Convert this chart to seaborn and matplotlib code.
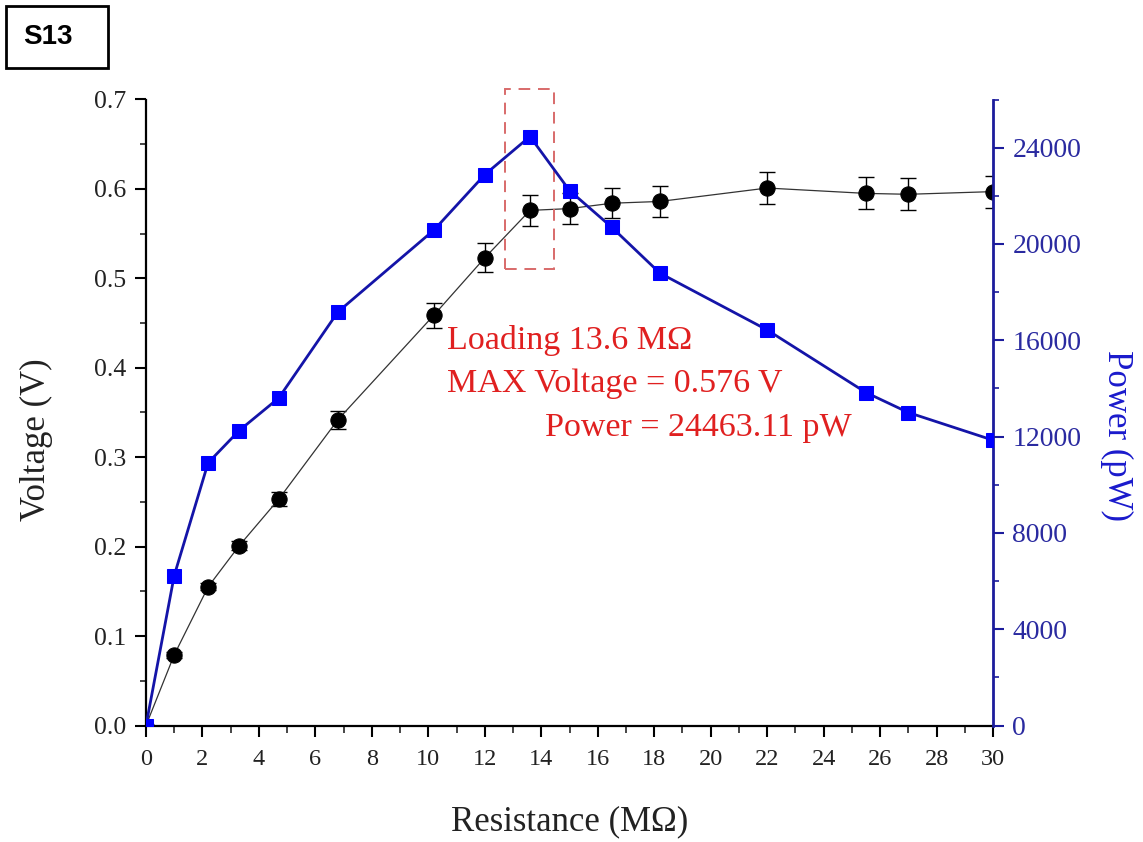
import matplotlib
matplotlib.use("Agg")
import matplotlib.pyplot as plt
import matplotlib.patches as patches
from matplotlib.ticker import MultipleLocator
import numpy as np
import pandas as pd
import seaborn as sns

# Load resistance (MOhm) and measured output
resistance = [0, 1.0, 2.2, 3.3, 4.7, 6.8, 10.2, 12.0, 13.6, 15.0, 16.5, 18.2, 22.0, 25.5, 27.0, 30.0]
voltage = [0.0, 0.079, 0.155, 0.201, 0.253, 0.342, 0.459, 0.523, 0.576, 0.578, 0.584, 0.586,
           0.601, 0.595, 0.594, 0.597]
voltage_err = [0.0, 0.003, 0.004, 0.005, 0.008, 0.010, 0.014, 0.016, 0.017, 0.017, 0.017, 0.017,
               0.018, 0.018, 0.018, 0.018]
power = [0, 6230, 10910, 12250, 13600, 17180, 20580, 22880, 24463.11, 22220, 20690, 18790,
         16430, 13830, 13000, 11850]

peak_r = 13.6
peak_v = 0.576
peak_p = 24463.11

df = pd.DataFrame({"R": resistance, "V": voltage, "err": voltage_err, "P": power})

sns.set_theme(style="ticks")
plt.rcParams["font.family"] = ["Liberation Serif", "DejaVu Serif"]

W, H = 1143, 842
fig = plt.figure(figsize=(W / 100, H / 100), dpi=100)
x0, x1, y0, y1 = 146, 993, 99.5, 725.5
ax = fig.add_axes([x0 / W, 1 - y1 / H, (x1 - x0) / W, (y1 - y0) / H])

# Voltage curve with error bars
ax.errorbar(df["R"], df["V"], yerr=df["err"], fmt="none", ecolor="black",
            elinewidth=1.0, capsize=6, capthick=1.0, zorder=3)
sns.lineplot(data=df, x="R", y="V", ax=ax, color="#333333", linewidth=0.9,
             marker="o", markersize=11, markerfacecolor="black",
             markeredgecolor="black", zorder=4, legend=False)

ax.set_xlim(0, 30)
ax.set_ylim(0, 0.7)
ax.xaxis.set_major_locator(MultipleLocator(2))
ax.xaxis.set_minor_locator(MultipleLocator(1))
ax.yaxis.set_major_locator(MultipleLocator(0.1))
ax.yaxis.set_minor_locator(MultipleLocator(0.05))
ax.yaxis.set_major_formatter(matplotlib.ticker.FormatStrFormatter("%.1f"))

for s in ["left", "bottom"]:
    ax.spines[s].set_linewidth(1.6)
    ax.spines[s].set_color("black")
ax.spines["top"].set_visible(False)
ax.spines["right"].set_visible(False)

ax.tick_params(axis="x", which="major", direction="out", length=8, width=1.5,
               labelsize=17.5, pad=9, colors="black", labelcolor="#222222")
ax.tick_params(axis="x", which="minor", direction="out", length=5, width=1.2)
ax.tick_params(axis="y", which="major", direction="out", length=8, width=1.5,
               labelsize=18.5, pad=6, colors="black", labelcolor="#222222")
ax.tick_params(axis="y", which="minor", direction="out", length=4, width=1.2)

ax.set_xlabel("Resistance (MΩ)", fontsize=25, color="#222222")
ax.set_ylabel("Voltage (V)", fontsize=25, color="#222222")
ax.xaxis.set_label_coords(0.5, -0.128)
ax.yaxis.set_label_coords(-0.11, 0.456)

# Power curve on the secondary axis
navy = "#1c1c9c"
ax2 = ax.twinx()
sns.lineplot(data=df, x="R", y="P", ax=ax2, color="#1414a8", linewidth=2.0,
             marker="s", markersize=9.5, markerfacecolor="#0000ff",
             markeredgecolor="#0000ff", zorder=5, legend=False)
ax2.set_ylim(0, 26000)
ax2.set_xlim(0, 30)
ax2.yaxis.set_major_locator(MultipleLocator(4000))
ax2.yaxis.set_minor_locator(MultipleLocator(2000))
ax2.spines["top"].set_visible(False)
ax2.spines["left"].set_visible(False)
ax2.spines["bottom"].set_visible(False)
ax2.spines["right"].set_color(navy)
ax2.spines["right"].set_linewidth(2.0)
ax2.tick_params(axis="y", which="major", direction="out", length=8, width=1.5,
                labelsize=20, pad=6, colors=navy, labelcolor="#2a2aa0")
ax2.tick_params(axis="y", which="minor", direction="out", length=4, width=1.2, colors=navy)
ax2.set_ylabel("Power (pW)", fontsize=25, color="#1a1acc", rotation=270, va="bottom")
ax2.yaxis.set_label_coords(1.126, 0.464)
ax2.set_xlabel("")

# Highlight of the maximum-power loading
box = patches.Rectangle((12.72, 0.51), 1.73, 0.202, fill=False, edgecolor="#d86a6a",
                        linewidth=1.4, linestyle=(0, (6, 4)), clip_on=False, zorder=6)
ax.add_patch(box)

red = "#e02020"
ax.text(10.66, 0.431, f"Loading {peak_r} MΩ", color=red, fontsize=24.5, va="center", ha="left")
ax.text(10.66, 0.382, f"MAX Voltage = {peak_v} V", color=red, fontsize=24.5, va="center", ha="left")
ax.text(14.13, 0.333, f"Power = {peak_p:.2f} pW", color=red, fontsize=24.5, va="center", ha="left")

# Panel tag
fig.patches.append(patches.Rectangle((6 / W, 1 - 68 / H), 102 / W, 62 / H, transform=fig.transFigure,
                                     fill=False, edgecolor="black", linewidth=2.0))
fig.text(48 / W, 1 - 37 / H, "S13", fontsize=20, fontweight="bold", ha="center", va="center",
         family=["Liberation Sans", "DejaVu Sans"], color="black")

fig.savefig("out.png", dpi=100, facecolor="white")
